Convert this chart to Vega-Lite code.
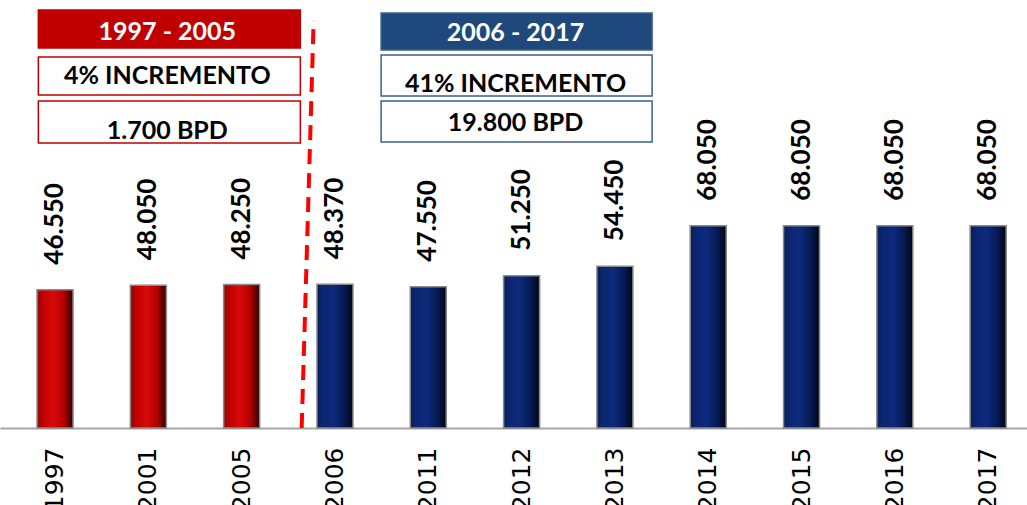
{
  "$schema": "https://vega.github.io/schema/vega-lite/v6.json",
  "width": 1027,
  "height": 428,
  "autosize": "none",
  "padding": {"left": 0, "top": 0, "right": 0, "bottom": 77},
  "config": {
    "view": {"stroke": null},
    "locale": {"number": {"decimal": ",", "thousands": ".", "grouping": [3], "currency": ["", ""]}}
  },
  "datasets": {
    "bars": [
      {"year": "1997", "value": 46550, "period": "A"},
      {"year": "2001", "value": 48050, "period": "A"},
      {"year": "2005", "value": 48250, "period": "A"},
      {"year": "2006", "value": 48370, "period": "B"},
      {"year": "2011", "value": 47550, "period": "B"},
      {"year": "2012", "value": 51250, "period": "B"},
      {"year": "2013", "value": 54450, "period": "B"},
      {"year": "2014", "value": 68050, "period": "B"},
      {"year": "2015", "value": 68050, "period": "B"},
      {"year": "2016", "value": 68050, "period": "B"},
      {"year": "2017", "value": 68050, "period": "B"}
    ],
    "boxes": [
      {"anchor": "2001", "group": "A", "kind": "header", "top": 140636, "bottom": 127851},
      {"anchor": "2001", "group": "A", "kind": "info", "top": 124823, "bottom": 112038},
      {"anchor": "2001", "group": "A", "kind": "info", "top": 110019, "bottom": 95888},
      {"anchor": "2012", "group": "B", "kind": "header", "top": 139627, "bottom": 127178},
      {"anchor": "2012", "group": "B", "kind": "info", "top": 125496, "bottom": 111701},
      {"anchor": "2012", "group": "B", "kind": "info", "top": 110019, "bottom": 96225}
    ],
    "texts": [
      {"anchor": "2001", "group": "A", "kind": "header", "text": "1997 - 2005", "pos": 133234},
      {"anchor": "2001", "group": "A", "kind": "info", "text": "4% INCREMENTO", "pos": 118430},
      {"anchor": "2001", "group": "A", "kind": "info", "text": "1.700 BPD", "pos": 99926},
      {"anchor": "2012", "group": "B", "kind": "header", "text": "2006 - 2017", "pos": 132898},
      {"anchor": "2012", "group": "B", "kind": "info", "text": "41% INCREMENTO", "pos": 115739},
      {"anchor": "2012", "group": "B", "kind": "info", "text": "19.800 BPD", "pos": 102785}
    ],
    "divider": [{"from": "2005", "bottom": 0, "top": 137272}]
  },
  "layer": [
    {
      "data": {"name": "bars"},
      "transform": [{"filter": "datum.period === 'A'"}],
      "mark": {
        "type": "bar",
        "stroke": "#8a8a8a",
        "strokeWidth": 1.5,
        "fill": {"gradient": "linear", "x1": 0, "y1": 0, "x2": 1, "y2": 0,
          "stops": [
            {"offset": 0, "color": "#8a0a0a"},
            {"offset": 0.15, "color": "#c00000"},
            {"offset": 0.45, "color": "#d80a0a"},
            {"offset": 0.75, "color": "#b00000"},
            {"offset": 1, "color": "#2a0000"}
          ]}
      },
      "encoding": {
        "x": {"field": "year", "type": "nominal",
          "scale": {"paddingInner": 0.614, "paddingOuter": 0.31, "align": 0.64},
          "axis": {"title": null, "labelAngle": -90, "labelFont": "DejaVu Sans", "labelFontSize": 25,
            "labelColor": "#000000", "ticks": false, "tickSize": 0, "labelPadding": 19,
            "domainColor": "#a6a6a6", "domainWidth": 2}},
        "y": {"field": "value", "type": "quantitative",
          "scale": {"domain": [0, 144000], "nice": false, "zero": true}, "axis": null}
      }
    },
    {
      "data": {"name": "bars"},
      "transform": [{"filter": "datum.period === 'B'"}],
      "mark": {
        "type": "bar",
        "stroke": "#8a8a8a",
        "strokeWidth": 1.5,
        "fill": {"gradient": "linear", "x1": 0, "y1": 0, "x2": 1, "y2": 0,
          "stops": [
            {"offset": 0, "color": "#0a1f55"},
            {"offset": 0.15, "color": "#0b2570"},
            {"offset": 0.45, "color": "#0c2a7c"},
            {"offset": 0.75, "color": "#061a55"},
            {"offset": 1, "color": "#000614"}
          ]}
      },
      "encoding": {
        "x": {"field": "year", "type": "nominal"},
        "y": {"field": "value", "type": "quantitative"}
      }
    },
    {
      "data": {"name": "bars"},
      "mark": {"type": "text", "angle": 270, "align": "left", "baseline": "middle", "dx": 25,
        "font": "Lato", "fontWeight": "bold", "fontSize": 26, "color": "#000000"},
      "encoding": {
        "x": {"field": "year", "type": "nominal"},
        "y": {"field": "value", "type": "quantitative"},
        "text": {"field": "value", "type": "quantitative", "format": ",d"}
      }
    },
    {
      "data": {"name": "divider"},
      "mark": {"type": "rule", "color": "#ff0000", "strokeWidth": 4, "strokeDash": [15, 9],
        "xOffset": 60, "x2Offset": 72},
      "encoding": {
        "x": {"field": "from", "type": "nominal"},
        "x2": {"field": "from"},
        "y": {"field": "bottom", "type": "quantitative"},
        "y2": {"field": "top"}
      }
    },
    {
      "data": {"name": "boxes"},
      "transform": [{"filter": "datum.group === 'A'"}],
      "mark": {"type": "bar", "width": 262, "xOffset": 21, "strokeWidth": 1.5, "stroke": "#c00000"},
      "encoding": {
        "x": {"field": "anchor", "type": "nominal"},
        "y": {"field": "top", "type": "quantitative"},
        "y2": {"field": "bottom"},
        "fill": {"condition": {"test": "datum.kind === 'header'", "value": "#c00000"}, "value": "#ffffff"}
      }
    },
    {
      "data": {"name": "boxes"},
      "transform": [{"filter": "datum.group === 'B'"}],
      "mark": {"type": "bar", "width": 271, "xOffset": -5, "strokeWidth": 1.5, "stroke": "#3c5f8e"},
      "encoding": {
        "x": {"field": "anchor", "type": "nominal"},
        "y": {"field": "top", "type": "quantitative"},
        "y2": {"field": "bottom"},
        "fill": {"condition": {"test": "datum.kind === 'header'", "value": "#1f497d"}, "value": "#ffffff"}
      }
    },
    {
      "data": {"name": "texts"},
      "transform": [{"filter": "datum.group === 'A'"}],
      "mark": {"type": "text", "align": "center", "baseline": "middle", "dx": 19,
        "font": "Lato", "fontWeight": "bold", "fontSize": 25},
      "encoding": {
        "x": {"field": "anchor", "type": "nominal"},
        "y": {"field": "pos", "type": "quantitative"},
        "text": {"field": "text"},
        "color": {"condition": {"test": "datum.kind === 'header'", "value": "#ffffff"}, "value": "#000000"}
      }
    },
    {
      "data": {"name": "texts"},
      "transform": [{"filter": "datum.group === 'B'"}],
      "mark": {"type": "text", "align": "center", "baseline": "middle", "dx": -6,
        "font": "Lato", "fontWeight": "bold", "fontSize": 25},
      "encoding": {
        "x": {"field": "anchor", "type": "nominal"},
        "y": {"field": "pos", "type": "quantitative"},
        "text": {"field": "text"},
        "color": {"condition": {"test": "datum.kind === 'header'", "value": "#ffffff"}, "value": "#000000"}
      }
    }
  ]
}
